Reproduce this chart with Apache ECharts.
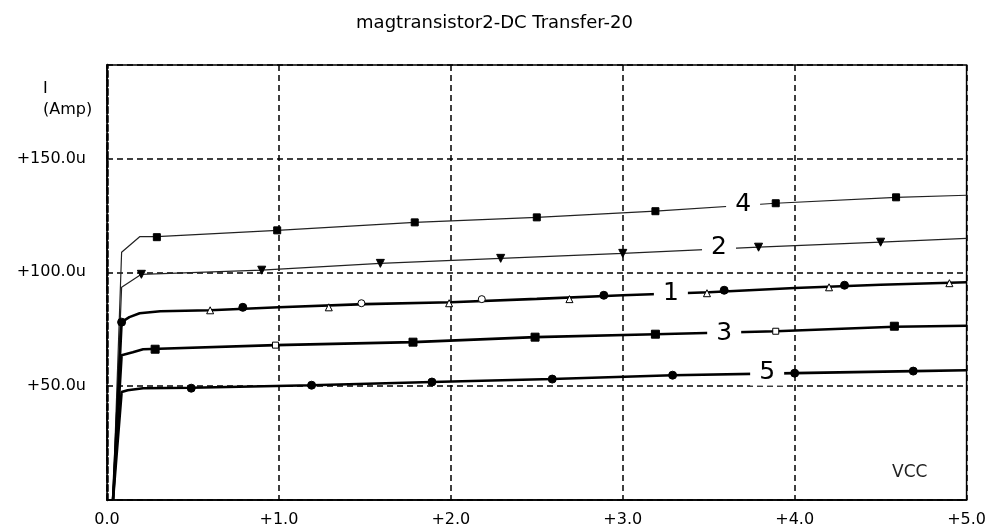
<!DOCTYPE html>
<html>
<head>
<meta charset="utf-8">
<title>magtransistor2-DC Transfer-20</title>
<script src="https://cdn.jsdelivr.net/npm/echarts@6/dist/echarts.min.js"></script>
<style>
html, body { margin: 0; padding: 0; background: #fff; }
#chart { width: 989px; height: 530px; }
</style>
</head>
<body>
<div id="chart"></div>
<script>
// VCC sweep 0..5 V, currents read in uA
const xTickLabels = ['0.0', '+1.0', '+2.0', '+3.0', '+4.0', '+5.0'];
const yTickLabels = { 50: '+50.0u', 100: '+100.0u', 150: '+150.0u' };

// traces (x = VCC, y = uA)
const curve4 = [[0.035, 0], [0.085, 108.8], [0.19, 115.6], [0.29, 115.6], [0.99, 118.4], [1.79, 121.9], [2.5, 124.1], [3.19, 126.8], [3.89, 130.3], [4.59, 132.9], [5, 133.8]];
const curve2 = [[0.035, 0], [0.085, 93.4], [0.2, 99.1], [0.9, 100.9], [1.59, 103.9], [2.29, 106.1], [3.0, 108.3], [3.79, 111.0], [4.5, 113.2], [5, 114.9]];
const curve1 = [[0.035, 0], [0.085, 78.1], [0.13, 80.3], [0.19, 82.0], [0.31, 82.9], [0.6, 83.3], [1, 84.6], [1.5, 86.0], [2, 86.8], [2.5, 88.3], [3, 89.9], [3.5, 91.2], [4, 93.1], [4.5, 94.5], [5, 95.6]];
const curve3 = [[0.035, 0], [0.085, 63.6], [0.15, 64.9], [0.21, 66.2], [0.98, 68.0], [1.78, 69.3], [2.49, 71.5], [3.19, 72.8], [3.89, 74.1], [4.58, 76.1], [5, 76.5]];
const curve5 = [[0.035, 0], [0.085, 47.4], [0.12, 48.2], [0.21, 49.1], [0.49, 49.3], [1.19, 50.4], [1.89, 51.8], [2.59, 53.1], [3.29, 54.8], [4.0, 55.7], [4.69, 56.6], [5, 57.0]];

// markers
const marks4 = [[0.29, 115.4], [0.99, 118.4], [1.79, 121.9], [2.5, 124.1], [3.19, 126.8], [3.89, 130.3], [4.59, 132.9]];
const marks2 = [[0.2, 99.1], [0.9, 100.9], [1.59, 103.9], [2.29, 106.1], [3.0, 108.3], [3.79, 111.0], [4.5, 113.2]];
const marks1Tri = [[0.6, 83.3], [1.29, 84.6], [1.99, 86.4], [2.69, 88.2], [3.49, 90.8], [4.2, 93.4], [4.9, 95.2]];
const marks1Dot = [[0.085, 78.1], [0.79, 84.6], [2.89, 89.9], [3.59, 92.1], [4.29, 94.3]];
const marks1Ring = [[1.48, 86.4], [2.18, 88.2]];
const marks3 = [[0.28, 66.2], [1.78, 69.3], [2.49, 71.5], [3.19, 72.8], [4.58, 76.3]];
const marks3Open = [[0.98, 68.0], [3.89, 74.1]];
const marks5 = [[0.49, 49.1], [1.19, 50.4], [1.89, 51.8], [2.59, 53.1], [3.29, 54.8], [4.0, 55.7], [4.69, 56.6]];

// trace numbers
const traceNames = ['4', '2', '1', '3', '5'];
const traceLabelAt = [[3.70, 129.6], [3.56, 110.7], [3.28, 90.8], [3.59, 73.2], [3.84, 56.0]];

const font = 'DejaVu Sans';
const chart = echarts.init(document.getElementById('chart'));

function traceLine(idx, data, width, color) {
  return {
    name: traceNames[idx],
    type: 'line',
    data: data,
    showSymbol: false,
    animation: false,
    lineStyle: { color: color, width: width },
    z: 3,
    markPoint: {
      symbol: 'rect',
      symbolSize: [34, 26],
      itemStyle: { color: '#fff' },
      label: { show: true, position: 'inside', formatter: traceNames[idx], fontFamily: font, fontSize: 25, color: '#000' },
      data: [{ coord: traceLabelAt[idx] }],
      animation: false
    }
  };
}

function markers(data, symbol, size, fill, rotate) {
  return {
    type: 'scatter',
    data: data,
    symbol: symbol,
    symbolSize: size,
    symbolRotate: rotate || 0,
    itemStyle: { color: fill, borderColor: '#000', borderWidth: 1, opacity: 1 },
    animation: false,
    z: 4
  };
}

chart.setOption({
  backgroundColor: '#fff',
  title: {
    text: 'magtransistor2-DC Transfer-20',
    left: 'center',
    top: 9,
    textStyle: { fontFamily: font, fontSize: 18, fontWeight: 'normal', color: '#000' }
  },
  grid: {
    left: 107, right: 19, top: 65, bottom: 30,
    show: true, borderColor: '#000', borderWidth: 1.5
  },
  xAxis: {
    type: 'value',
    min: 0, max: 5, interval: 1,
    axisLine: { show: true, onZero: false, lineStyle: { color: '#000', width: 1.5 } },
    axisTick: { show: false },
    axisLabel: {
      fontFamily: font, fontSize: 16, color: '#000', margin: 12,
      formatter: v => xTickLabels[Math.round(v)] || ''
    },
    splitLine: { show: true, lineStyle: { color: '#000', type: [6, 4], width: 1.5 } }
  },
  yAxis: {
    type: 'value',
    min: 0, max: 191, interval: 50,
    axisLine: { show: true, lineStyle: { color: '#000', type: [6, 3], width: 2.5 } },
    axisTick: { show: false },
    axisLabel: {
      fontFamily: font, fontSize: 16, color: '#000', margin: 21,
      showMaxLabel: false,
      formatter: v => yTickLabels[v] || ''
    },
    splitLine: { show: true, lineStyle: { color: '#000', type: [6, 4], width: 1.5 } }
  },
  graphic: [
    { type: 'text', left: 43, top: 78, style: { text: 'I\n(Amp)', font: '16px "DejaVu Sans"', lineHeight: 21, fill: '#000' } },
    { type: 'text', left: 892, top: 464, style: { text: 'VCC', font: '17px "DejaVu Sans"', fill: '#222' } }
  ],
  series: [
    traceLine(0, curve4, 1.2, '#222'),
    traceLine(1, curve2, 1.2, '#222'),
    traceLine(2, curve1, 2.6, '#000'),
    traceLine(3, curve3, 2.6, '#000'),
    traceLine(4, curve5, 2.6, '#000'),
    markers(marks4, 'rect', 7, '#000'),
    markers(marks2, 'triangle', 8, '#000', 180),
    markers(marks1Tri, 'triangle', 7, '#fff'),
    markers(marks1Dot, 'circle', 8, '#000'),
    markers(marks1Ring, 'circle', 7, '#fff'),
    markers(marks3, 'rect', 8, '#000'),
    markers(marks3Open, 'rect', 6, '#fff'),
    markers(marks5, 'circle', 8, '#000')
  ]
});
</script>
</body>
</html>
